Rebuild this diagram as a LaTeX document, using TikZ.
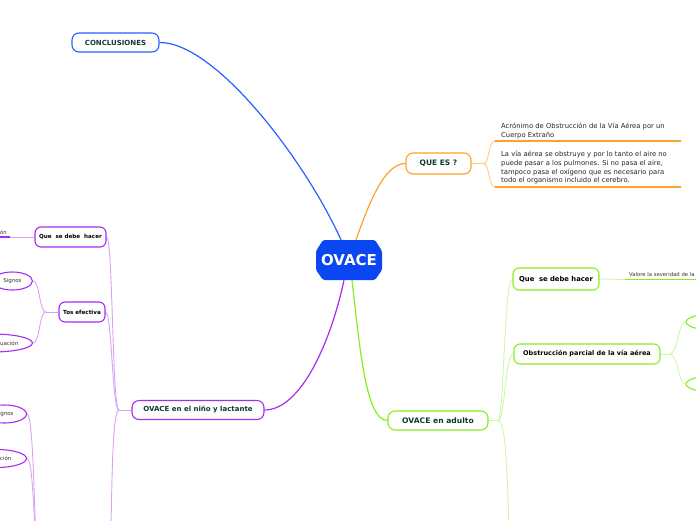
\documentclass[tikz,border=0pt]{standalone}
\usepackage{fontspec}
\setmainfont{DejaVu Sans}
\usetikzlibrary{shapes.geometric,backgrounds,calc}
\definecolor{cblue}{HTML}{2860FF}
\definecolor{cfill}{HTML}{0A46F2}
\definecolor{corange}{HTML}{FFA126}
\definecolor{corangeL}{HTML}{FFCB80}
\definecolor{cpurple}{HTML}{A52CF2}
\definecolor{cpurpleL}{HTML}{D7A2F8}
\definecolor{cgreen}{HTML}{86EE1E}
\definecolor{cgreenL}{HTML}{CDF7A6}
\definecolor{ctext}{HTML}{0E3B30}
\tikzset{
 topic/.style={draw, line width=1.1pt, rounded corners=7pt, fill=white, text=ctext, font=\fontsize{7}{8}\selectfont\bfseries, inner sep=0pt, minimum height=19pt},
 subnode/.style={draw, line width=1.1pt, rounded corners=6pt, fill=white, text=black, font=\fontsize{6.5}{8}\selectfont\bfseries, inner sep=0pt, minimum height=20pt},
 leaf/.style={draw, ellipse, line width=1.1pt, fill=white, text=black!80, font=\fontsize{5.5}{7}\selectfont, inner sep=0pt, minimum height=18pt},
 note/.style={font=\fontsize{6.8}{8.8}\selectfont, align=left, anchor=south west, inner sep=0pt, text=black!85},
 thin/.style={line width=0.9pt},
}
\begin{document}
\begin{tikzpicture}[x=1pt,y=-1pt]
\useasboundingbox (0,0) rectangle (696,520);
\clip (0,0) rectangle (696,520);
% central
\fill[cfill, rounded corners=1.5pt] (323,240) -- (375,240) -- (382,251) -- (382,270) -- (375,280) -- (323,280) -- (316,270) -- (316,251) -- cycle;
\node[minimum width=66pt, minimum height=40pt, inner sep=0pt, text=white, font=\fontsize{15}{16}\selectfont\bfseries] (c) at (349,260) {OVACE};
% main topics
\node[topic, draw=cblue, minimum width=87pt] (concl) at (115.5,42.5) {CONCLUSIONES};
\node[topic, draw=corange, minimum width=65pt, minimum height=21pt, font=\fontsize{7.5}{8}\selectfont\bfseries] (quees) at (438.5,163.5) {QUE ES ?};
\node[topic, draw=cpurple, minimum width=132pt] (nino) at (198,410) {OVACE en el niño y lactante};
\node[topic, draw=cgreen, minimum width=100pt, font=\fontsize{7.6}{8}\selectfont\bfseries] (adulto) at (438,420.5) {OVACE en adulto};
% adult sub
\node[subnode, draw=cgreen, minimum width=86pt, minimum height=22pt, font=\fontsize{6.8}{8}\selectfont\bfseries] (aq) at (556,279) {Que\ \ se debe hacer};
\node[subnode, draw=cgreen, minimum width=146pt] (aobs) at (587,354) {Obstrucción parcial de la vía aérea};
\node[leaf, draw=cgreen, minimum width=70pt] (al1) at (721,322) {};
\node[leaf, draw=cgreen, minimum width=70pt] (al2) at (721,384) {};
% child sub
\node[subnode, draw=cpurple, minimum width=71pt, font=\fontsize{5.6}{7}\selectfont\bfseries] (nq) at (70.5,237) {Que\ \ se debe\ \ hacer};
\node[subnode, draw=cpurple, minimum width=46pt, font=\fontsize{5.6}{7}\selectfont\bfseries] (ntos) at (82,312) {Tos efectiva};
\node[leaf, draw=cpurple, anchor=east, minimum width=40pt] (ns1) at (33,281) {Signos};
\node[leaf, draw=cpurple, anchor=east, minimum width=80pt] (ns2) at (33,343) {Evalúe la situación};
\node[leaf, draw=cpurple, anchor=east, minimum width=44pt] (nb1) at (27,414) {Signos};
\node[leaf, draw=cpurple, anchor=east, minimum width=60pt] (nb2) at (27,458.5) {Evaluación};
% notes
\node[note] (t1) at (501,139) {Acrónimo de Obstrucción de la Vía Aérea por un\\Cuerpo Extraño};
\node[note] (t2) at (501,184.5) {La vía aérea se obstruye y por lo tanto el aire no\\puede pasar a los pulmones. Si no pasa el aire,\\tampoco pasa el oxígeno que es necesario para\\todo el organismo incluido el cerebro.};
\node[font=\fontsize{5.3}{6}\selectfont, anchor=south west, inner sep=0pt, text=black!80] (av_t) at (629,276.5) {Valore la severidad de la obstrucción};
\node[font=\fontsize{5.3}{6}\selectfont, anchor=south east, inner sep=0pt, text=black!80] (nv_t) at (7,234.5) {Valore la severidad de la obstrucción};
% coordinates
\coordinate (qj) at (483,163.5);
\coordinate (u1a) at (495,141); \coordinate (u1b) at (681,141);
\coordinate (u2a) at (495,187); \coordinate (u2b) at (681,187);
\coordinate (aj) at (498,420.5);
\coordinate (adown) at (509,530);
\coordinate (oj) at (670,354);
\coordinate (av) at (625,279.5); \coordinate (av2) at (700,279.5);
\coordinate (nj) at (119,410);
\coordinate (ndown) at (111,530);
\coordinate (tj) at (46,312);
\coordinate (nv) at (10,237); \coordinate (nv2) at (-5,237);
\coordinate (bj) at (36,540);
\begin{pgfonlayer}{background}
% central connectors
\draw[cblue, line width=1.2pt] ([xshift=-8pt]c.north) .. controls (305,160) and (215,42) .. (concl.east);
\draw[corange, line width=1.2pt] ([xshift=7pt]c.north) .. controls (370,200) and (385,163.5) .. (quees.west);
\draw[cpurple, line width=1.2pt] ([xshift=-5pt]c.south) .. controls (330,345) and (300,410) .. (nino.east);
\draw[cgreen, line width=1.2pt] ([xshift=3pt]c.south) .. controls (360,350) and (366,420.5) .. (adulto.west);
% que es
\draw[corangeL, thin] (quees.east) -- (qj) .. controls (490,163.5) and (488,141) .. (u1a);
\draw[corangeL, thin] (qj) .. controls (490,163.5) and (488,187) .. (u2a);
\draw[corange, line width=1.3pt] (u1a) -- (u1b);
\draw[corange, line width=1.3pt] (u2a) -- (u2b);
% adult
\draw[cgreenL, thin] (adulto.east) -- (aj);
\draw[cgreenL, thin] (aj) .. controls (504,420.5) and (504,279) .. (aq.west);
\draw[cgreenL, thin] (aj) .. controls (505,420.5) and (505,354) .. (aobs.west);
\draw[cgreenL, thin] (aj) .. controls (505,420.5) and (507,460) .. (adown);
\draw[cgreenL, thin] (aq.east) -- (av);
\draw[cgreen, line width=1.5pt] (av) -- (av2);
\draw[cgreenL, thin] (aobs.east) -- (oj);
\draw[cgreenL, thin] (oj) .. controls (678,354) and (678,322) .. (al1.west);
\draw[cgreenL, thin] (oj) .. controls (678,354) and (678,384) .. (al2.west);
% child
\draw[cpurpleL, thin] (nino.west) -- (nj);
\draw[cpurpleL, thin] (nj) .. controls (112,410) and (113,237) .. (nq.east);
\draw[cpurpleL, thin] (nj) .. controls (112,410) and (112,312) .. (ntos.east);
\draw[cpurpleL, thin] (nj) .. controls (113,410) and (112,470) .. (ndown);
\draw[cpurpleL, thin] (nq.west) -- (nv);
\draw[cpurple, line width=1.5pt] (nv) -- (nv2);
\draw[cpurpleL, thin] (ntos.west) -- (tj);
\draw[cpurpleL, thin] (tj) .. controls (39,312) and (40,281) .. (ns1.east);
\draw[cpurpleL, thin] (tj) .. controls (39,312) and (40,343) .. (ns2.east);
\draw[cpurpleL, thin] (bj) .. controls (34,500) and (33,414) .. (nb1.east);
\draw[cpurpleL, thin] (bj) .. controls (33,500) and (32,458.5) .. (nb2.east);
\end{pgfonlayer}
\end{tikzpicture}
\end{document}
